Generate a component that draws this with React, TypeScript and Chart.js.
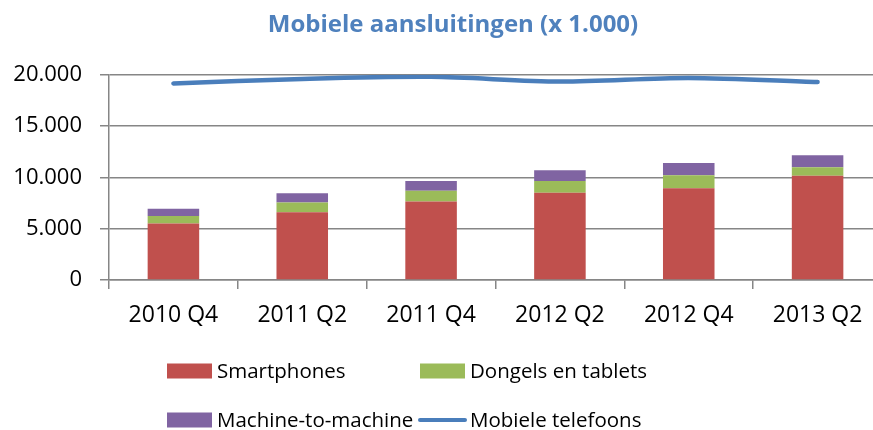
import React, { useEffect, useRef } from "react";
import { Chart, registerables } from "chart.js";

Chart.register(...registerables);

const title = "Mobiele aansluitingen (x 1.000)";
const categories = ["2010 Q4", "2011 Q2", "2011 Q4", "2012 Q2", "2012 Q4", "2013 Q2"];
const smartphones = [5500, 6600, 7650, 8500, 8950, 10150];
const dongels = [750, 950, 1050, 1150, 1250, 850];
const machineToMachine = [700, 900, 950, 1050, 1200, 1150];
const mobieleTelefoons = [19150, 19600, 19800, 19350, 19700, 19300];
const yMin = 0;
const yMax = 20000;
const yStep = 5000;

const FONT = "'Open Sans', 'DejaVu Sans', sans-serif";
const GRID = "#868686";

function fmt(v: number): string {
  const s = Math.round(v).toString();
  return s.replace(/\B(?=(\d{3})+(?!\d))/g, ".");
}

const centerTitle = {
  id: "centerTitle",
  afterLayout(chart: any) {
    const tb = chart.titleBlock;
    if (tb) {
      tb.left = 0;
      tb.right = chart.width;
      tb.width = chart.width;
    }
  },
};

const gridLegend = {
  id: "gridLegend",
  afterDraw(chart: any) {
    const ctx = chart.ctx as CanvasRenderingContext2D;
    const cols = [167, 420];
    const rows = [371, 420];
    ctx.save();
    ctx.font = `20.5px ${FONT}`;
    ctx.textBaseline = "middle";
    ctx.textAlign = "left";
    chart.data.datasets.forEach((ds: any, i: number) => {
      const x = cols[i % 2];
      const y = rows[Math.floor(i / 2)];
      if (ds.type === "line") {
        ctx.strokeStyle = ds.borderColor;
        ctx.lineWidth = 4;
        ctx.lineCap = "round";
        ctx.beginPath();
        ctx.moveTo(x, y);
        ctx.lineTo(x + 45, y);
        ctx.stroke();
      } else {
        ctx.fillStyle = ds.backgroundColor;
        ctx.fillRect(x, y - 7.5, 45, 15);
      }
      ctx.fillStyle = "#000";
      ctx.fillText(ds.label, x + 50, y + 1);
    });
    ctx.restore();
  },
};

export default function App() {
  const ref = useRef<HTMLCanvasElement>(null);
  useEffect(() => {
    if (!ref.current) return;
    const chart = new Chart(ref.current, {
      type: "bar",
      data: {
        labels: categories,
        datasets: [
          { type: "bar", label: "Smartphones", data: smartphones, backgroundColor: "#C0504D", order: 1, stack: "s" },
          { type: "bar", label: "Dongels en tablets", data: dongels, backgroundColor: "#9BBB59", order: 1, stack: "s" },
          { type: "bar", label: "Machine-to-machine", data: machineToMachine, backgroundColor: "#8064A2", order: 1, stack: "s" },
          {
            type: "line",
            label: "Mobiele telefoons",
            data: mobieleTelefoons,
            borderColor: "#4A7EBB",
            backgroundColor: "#4A7EBB",
            borderWidth: 4.5,
            pointRadius: 0,
            tension: 0.3,
            borderCapStyle: "round",
            order: 0,
            stack: "line",
          } as any,
        ],
      },
      options: {
        responsive: false,
        animation: false,
        devicePixelRatio: 1,
        layout: { padding: { left: 0, right: 24, top: 0, bottom: 0 } },
        datasets: { bar: { categoryPercentage: 0.4, barPercentage: 1 } },
        plugins: {
          legend: { display: false },
          tooltip: { enabled: false },
          title: {
            display: true,
            text: title,
            color: "#4F81BD",
            font: { family: FONT, size: 24, weight: "bold" },
            padding: { top: 11, bottom: 35 },
          },
        },
        scales: {
          x: {
            stacked: true,
            afterFit: (s: any) => { s.height = 150; },
            grid: { drawOnChartArea: false, drawTicks: true, tickLength: 9, color: GRID, lineWidth: 1.5 },
            border: { color: GRID, width: 1.5 },
            ticks: { color: "#000", padding: 13, font: { family: FONT, size: 23 } },
          },
          y: {
            stacked: true,
            min: yMin,
            max: yMax,
            afterFit: (s: any) => { s.width = 109; },
            grid: { color: GRID, lineWidth: 1.5, tickLength: 9 },
            border: { color: GRID, width: 1.5 },
            ticks: {
              stepSize: yStep,
              color: "#000",
              padding: 18,
              font: { family: FONT, size: 22 },
              callback: (v: any) => fmt(Number(v)),
            },
          },
        },
      },
      plugins: [centerTitle, gridLegend],
    });
    return () => chart.destroy();
  }, []);
  return (
    <div style={{ position: "absolute", left: 0, top: 0, width: 873, height: 430, overflow: "hidden", background: "#fff" }}>
      <canvas ref={ref} width={906} height={430} style={{ display: "block" }} />
    </div>
  );
}
